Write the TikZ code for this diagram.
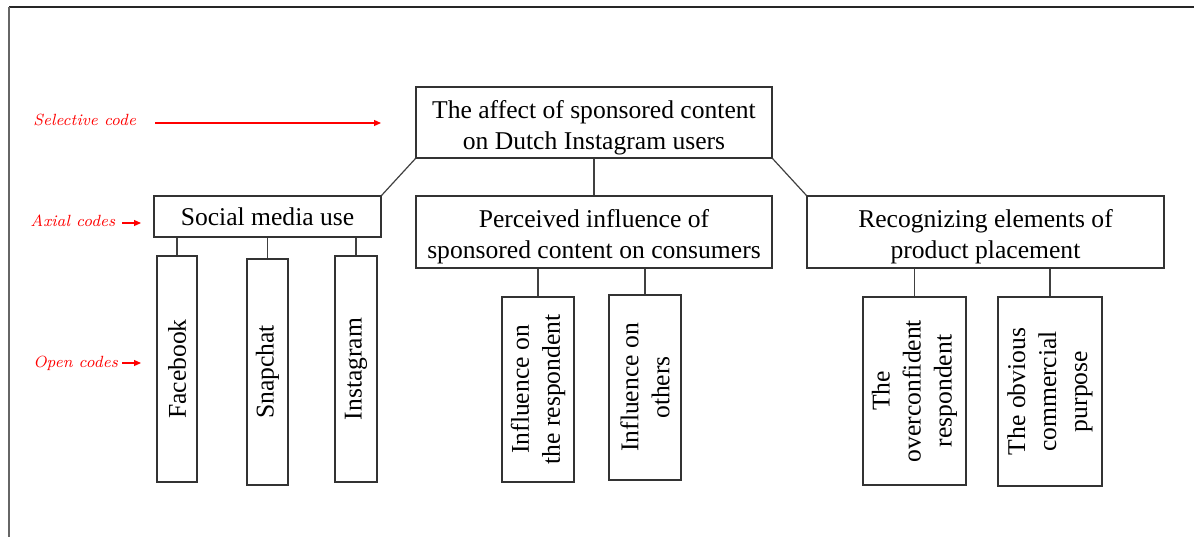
\documentclass[tikz,border=0pt]{standalone}
\usepackage{fontspec}
\newfontfamily\tnr{Liberation Serif}
\usetikzlibrary{arrows.meta}
\begin{document}
\begin{tikzpicture}[x=0.5pt,y=-0.5pt,
  box/.style={draw=black!80, line width=0.6pt, inner sep=0pt, align=center,
    font=\tnr\fontsize{12.8}{15.5}\selectfont},
  vbox/.style={box, rotate=90},
  conn/.style={draw=black!75, line width=0.6pt},
  lab/.style={text=red, font=\itshape\fontsize{8.1}{10}\selectfont, inner sep=0pt, anchor=base west},
  redarrow/.style={draw=red, line width=0.6pt, -{Triangle[length=3.5pt,width=3pt]}}]
\useasboundingbox (0,0) rectangle (1194,537);
% frame
\draw[black!85, line width=1pt] (9,7) -- (1194,7);
\draw[black!60, line width=0.6pt] (9,7) -- (9,537);

% selective
\node[box, minimum width=178pt, minimum height=35.5pt] (sel) at (594,122.5)
  {\rule{0pt}{14pt}The affect of sponsored content\\on Dutch Instagram users};
% axial
\node[box, minimum width=113.5pt, minimum height=20.5pt] (soc) at (267.5,216.5) {Social media use};
\node[box, minimum width=178pt, minimum height=36pt] (per) at (594,232)
  {\rule{0pt}{14pt}Perceived influence of\\sponsored content on consumers};
\node[box, minimum width=178.5pt, minimum height=36pt] (rec) at (985.5,232)
  {\rule{0pt}{14pt}Recognizing elements of\\product placement};
% open
\node[vbox, minimum width=113pt, minimum height=20pt] (fb) at (177,369) {Facebook};
\node[vbox, minimum width=113pt, minimum height=20.5pt] (sc) at (267.5,372) {Snapchat};
\node[vbox, minimum width=113pt, minimum height=21pt] (ig) at (356,369) {Instagram};
\node[vbox, minimum width=92.5pt, minimum height=36pt] (resp) at (538,389.5) {Influence on\\the respondent};
\node[vbox, minimum width=92.5pt, minimum height=36pt] (oth) at (645,387.5) {Influence on\\others};
\node[vbox, minimum width=94pt, minimum height=51.5pt] (ovc) at (914.5,391) {The\\overconfident\\respondent};
\node[vbox, minimum width=94.5pt, minimum height=52pt] (obv) at (1050,391.5) {The obvious\\commercial\\purpose};

% connectors
\draw[conn] (sel.south west) -- (soc.north east);
\draw[conn] (sel.south) -- (per.north);
\draw[conn] (sel.south east) -- (rec.north west);
\draw[conn] (fb.east |- soc.south) -- (fb.east);
\draw[conn] (sc.east |- soc.south) -- (sc.east);
\draw[conn] (ig.east |- soc.south) -- (ig.east);
\draw[conn] (resp.east |- per.south) -- (resp.east);
\draw[conn] (oth.east |- per.south) -- (oth.east);
\draw[conn] (ovc.east |- rec.south) -- (ovc.east);
\draw[conn] (obv.east |- rec.south) -- (obv.east);

% red labels
\node[lab] (lsel) at (33,125) {Selective code};
\node[lab] (lax) at (30,226) {Axial codes};
\node[lab] (lop) at (33,367) {Open codes};
\coordinate (s1) at (155,123); \coordinate (s2) at (381,123);
\coordinate (a1) at (122,223); \coordinate (a2) at (141,223);
\coordinate (o1) at (122,363); \coordinate (o2) at (141,363);
\draw[redarrow] (s1) -- (s2);
\draw[redarrow] (a1) -- (a2);
\draw[redarrow] (o1) -- (o2);
\end{tikzpicture}
\end{document}
